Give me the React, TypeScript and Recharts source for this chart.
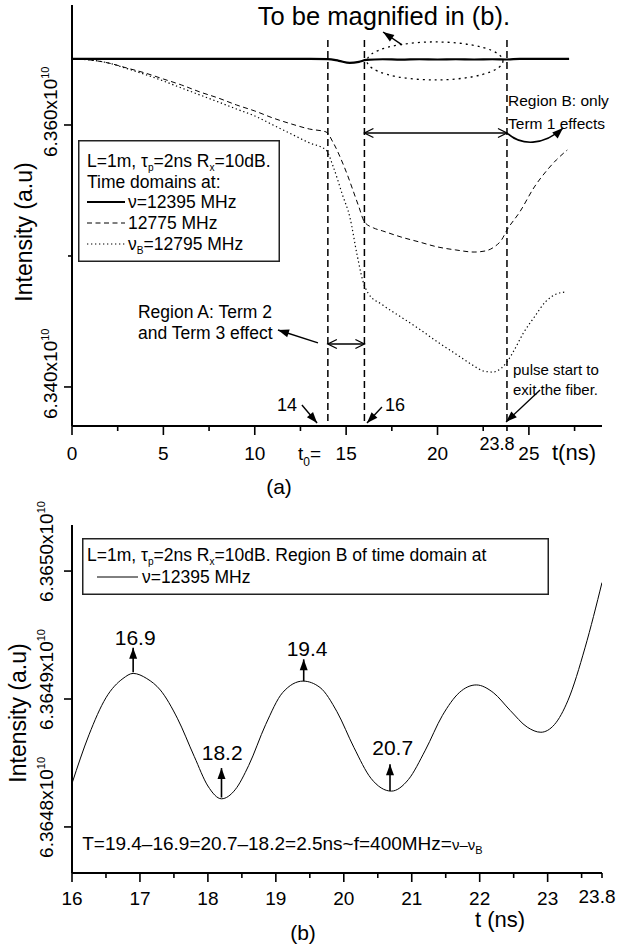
import React from 'react';
import { LineChart, Line, XAxis, YAxis, ReferenceLine, ReferenceDot, ReferenceArea, Legend, Label } from 'recharts';

const FONT = '"Liberation Sans", Arial, Helvetica, sans-serif';

// ---------------- Panel (a) data ----------------
const A_T_SOLID = [0, 2, 4, 6, 8, 10, 12, 13, 14, 14.6, 15.2, 15.7, 16.1, 17, 18, 19, 20, 21, 22, 23, 23.8, 24.5, 25.5, 27.2];
const A_V_SOLID = [6.36504, 6.36504, 6.36505, 6.36504, 6.36504, 6.36504, 6.36504, 6.36504, 6.36503, 6.3649, 6.36474, 6.36482, 6.36497, 6.36502, 6.36499, 6.36502, 6.365, 6.36502, 6.365, 6.36502, 6.365, 6.36505, 6.36504, 6.36504];

const A_T_DASH = [0, 1, 2, 3, 4, 5, 6, 7, 8, 9, 10, 11, 12, 13, 13.9, 14.3, 14.9, 15.7, 16, 16.5, 17, 18, 19, 20, 21, 22, 22.6, 23.1, 23.5, 23.8, 24.5, 25.3, 26, 26.5, 27.1];
const A_V_DASH = [6.36504, 6.36496, 6.36473, 6.36435, 6.36397, 6.36351, 6.36305, 6.36252, 6.36206, 6.36153, 6.36107, 6.36053, 6.36008, 6.35969, 6.35947, 6.35863, 6.35679, 6.35374, 6.3526, 6.35214, 6.35191, 6.35145, 6.35107, 6.35069, 6.35046, 6.3503, 6.35038, 6.35069, 6.35122, 6.35198, 6.35336, 6.35527, 6.35656, 6.35733, 6.35809];

const A_T_DOT = [0, 1, 2, 3, 4, 5, 6, 7, 8, 9, 10, 11, 12, 13, 13.9, 14.3, 14.8, 15.2, 15.6, 15.9, 16.2, 17, 18, 19, 20, 21, 22, 22.5, 23, 23.5, 23.8, 24.2, 24.7, 25.3, 25.9, 26.5, 27];
const A_V_DOT = [6.36504, 6.36496, 6.36473, 6.36431, 6.36386, 6.36336, 6.36282, 6.36229, 6.36176, 6.36122, 6.36069, 6.36, 6.35931, 6.35863, 6.35809, 6.35679, 6.35466, 6.35298, 6.35008, 6.34817, 6.34717, 6.34626, 6.34534, 6.34443, 6.34343, 6.34252, 6.3416, 6.34122, 6.34114, 6.34145, 6.34191, 6.34282, 6.34412, 6.34534, 6.34649, 6.3471, 6.34725];

const A_NAMES = ['ν=12395 MHz', '12775 MHz', 'ν_B=12795 MHz'];
const A_HEADER = ['L=1m, τ_p=2ns R_x=10dB.', 'Time domains at:'];
const A_X_DOMAIN = [0, 29];
const A_Y_DOMAIN = [6.33702, 6.36916];
const A_X_TICKS = [0, 2.5, 5, 7.5, 10, 12.5, 15, 17.5, 20, 22.5, 23.8, 25, 27.5];
const A_X_LABELED = [0, 5, 10, 15, 20, 25];
const A_Y_TICKS = [6.34, 6.35, 6.36];
const A_Y_LABELS = ['6.340x10', '', '6.360x10'];
const A_MARKS = [14, 16, 23.8];

// ---------------- Panel (b) data ----------------
const B_T = [16, 16.25, 16.5, 16.75, 16.9, 17.1, 17.3, 17.55, 17.8, 18, 18.2, 18.4, 18.6, 18.85, 19.1, 19.4, 19.65, 19.9, 20.15, 20.4, 20.7, 20.95, 21.2, 21.45, 21.7, 21.95, 22.2, 22.45, 22.7, 22.9, 23.1, 23.3, 23.55, 23.8];
const B_V = [6.364834, 6.364872, 6.364901, 6.364916, 6.36492, 6.364916, 6.364907, 6.364885, 6.364855, 6.364832, 6.364822, 6.364829, 6.364848, 6.36488, 6.364905, 6.364914, 6.364909, 6.36489, 6.364862, 6.364838, 6.364828, 6.364837, 6.36486, 6.364887, 6.364905, 6.364911, 6.364905, 6.364891, 6.364878, 6.364874, 6.36488, 6.364899, 6.36494, 6.364991];
const B_NAME = 'ν=12395 MHz';
const B_HEADER = 'L=1m, τ_p=2ns R_x=10dB. Region B of time domain at';
const B_X_DOMAIN = [16, 23.8];
const B_Y_DOMAIN = [6.364764, 6.365036];
const B_X_TICKS = [16, 16.5, 17, 17.5, 18, 18.5, 19, 19.5, 20, 20.5, 21, 21.5, 22, 22.5, 23, 23.5, 23.8];
const B_Y_TICKS = [6.3648, 6.3649, 6.365];
const B_Y_LABELS = ['6.3648x10', '6.3649x10', '6.3650x10'];
const B_EXTREMA = [
  { t: 16.9, label: '16.9' },
  { t: 18.2, label: '18.2' },
  { t: 19.4, label: '19.4' },
  { t: 20.7, label: '20.7' },
];

const toPts = (ts: number[], vs: number[]) => ts.map((t, i) => ({ t, v: vs[i] }));
const A_SOLID = toPts(A_T_SOLID, A_V_SOLID);
const A_DASH = toPts(A_T_DASH, A_V_DASH);
const A_DOT = toPts(A_T_DOT, A_V_DOT);
const B_DATA = toPts(B_T, B_V);

// ---------------- helpers ----------------
function rich(s: string, size: number) {
  const parts = s.split(/(_[A-Za-z0-9])/);
  const out: React.ReactNode[] = [];
  let sub = false;
  parts.forEach((part, i) => {
    if (part.length === 2 && part[0] === '_') {
      out.push(<tspan key={i} fontSize={size * 0.58} dy={size * 0.2}>{part[1]}</tspan>);
      sub = true;
    } else if (part) {
      out.push(<tspan key={i} dy={sub ? -size * 0.2 : 0}>{part}</tspan>);
      sub = false;
    }
  });
  return out;
}

type Head = 'filled' | 'open' | 'none';
function drawHead(x: number, y: number, ang: number, kind: Head, key: string) {
  if (kind === 'none') return null;
  const L = kind === 'filled' ? 11 : 9;
  const W = kind === 'filled' ? 4 : 4.5;
  const bx = x - L * Math.cos(ang);
  const by = y - L * Math.sin(ang);
  const px = -Math.sin(ang) * W;
  const py = Math.cos(ang) * W;
  if (kind === 'filled')
    return <polygon key={key} points={`${x},${y} ${bx + px},${by + py} ${bx - px},${by - py}`} fill="#000" />;
  return <polyline key={key} points={`${bx + px},${by + py} ${x},${y} ${bx - px},${by - py}`} fill="none" stroke="#000" strokeWidth={1.3} />;
}
const arrow = (start: Head, end: Head, sw = 1.4) => (p: any) => {
  const { x1, y1, x2, y2 } = p;
  const a = Math.atan2(y2 - y1, x2 - x1);
  return (
    <g>
      <line x1={x1} y1={y1} x2={x2} y2={y2} stroke="#000" strokeWidth={sw} />
      {drawHead(x2, y2, a, end, 'e')}
      {drawHead(x1, y1, a + Math.PI, start, 's')}
    </g>
  );
};
const curvedArrow = (p: any) => {
  const { x1, y1, x2, y2 } = p;
  const dx = x2 - x1;
  const c1x = x1 + dx * 0.25, c1y = y1 + 13, c2x = x1 + dx * 0.65, c2y = y1 + 13;
  const a = Math.atan2(y2 - c2y, x2 - c2x);
  return (
    <g>
      <path d={`M${x1},${y1} C${c1x},${c1y} ${c2x},${c2y} ${x2},${y2}`} fill="none" stroke="#000" strokeWidth={1.6} />
      {drawHead(x2, y2, a, 'filled', 'h')}
    </g>
  );
};

const seg = (key: string, t1: number, v1: number, t2: number, v2: number, shape: any) => (
  <ReferenceLine key={key} segment={[{ x: t1, y: v1 }, { x: t2, y: v2 }]} ifOverflow="visible" shape={shape} />
);
const note = (key: string, t: number, v: number, text: React.ReactNode, size: number, anchor: 'start' | 'middle' | 'end' = 'start') => (
  <ReferenceDot key={key} x={t} y={v} r={0} ifOverflow="visible"
    shape={(p: any) => (
      <text x={p.cx} y={p.cy} fontSize={size} textAnchor={anchor} fill="#000" fontFamily={FONT}>{text}</text>
    )} />
);

// ---------------- axis ticks ----------------
function ATickX(props: any) {
  const { x, y, payload } = props;
  const v = payload.value;
  const major = A_X_LABELED.includes(v);
  return (
    <g>
      <line x1={x} y1={y} x2={x} y2={y + (major ? 9 : 5)} stroke="#000" strokeWidth={1.6} />
      {major && <text x={x} y={y + 34} textAnchor="middle" fontSize={19} fill="#000">{v}</text>}
      {v === 15 && (
        <text x={x - 25} y={y + 34} textAnchor="end" fontSize={19} fill="#000">
          t<tspan fontSize={12} dy={6}>0</tspan><tspan dy={-6}>=</tspan>
        </text>
      )}
      {v === 23.8 && <text x={x - 10} y={y + 24} textAnchor="middle" fontSize={18} fill="#000">23.8</text>}
    </g>
  );
}
function ATickY(props: any) {
  const { x, y, payload } = props;
  const idx = A_Y_TICKS.indexOf(payload.value);
  const lab = A_Y_LABELS[idx];
  return (
    <g>
      <line x1={x - (lab ? 8 : 4)} y1={y} x2={x} y2={y} stroke="#000" strokeWidth={1.6} />
      {lab && (
        <text transform={`translate(${x - 15},${y + 32}) rotate(-90)`} fontSize={19} fill="#000">
          {lab}<tspan fontSize={11} dy={-8}>10</tspan>
        </text>
      )}
    </g>
  );
}
function BTickX(props: any) {
  const { x, y, payload } = props;
  const v = payload.value;
  const major = Number.isInteger(v);
  return (
    <g>
      <line x1={x} y1={y} x2={x} y2={y + (major ? 9 : 5)} stroke="#000" strokeWidth={1.6} />
      {major && <text x={x} y={y + 32} textAnchor="middle" fontSize={19} fill="#000">{v}</text>}
      {v === 23.8 && <text x={x - 5} y={y + 30} textAnchor="middle" fontSize={19} fill="#000">23.8</text>}
    </g>
  );
}
function BTickY(props: any) {
  const { x, y, payload } = props;
  const idx = B_Y_TICKS.indexOf(payload.value);
  const lab = B_Y_LABELS[idx];
  return (
    <g>
      <line x1={x - 8} y1={y} x2={x} y2={y} stroke="#000" strokeWidth={1.6} />
      {lab && (
        <text transform={`translate(${x - 19},${y + 31}) rotate(-90)`} fontSize={19} fill="#000">
          {lab}<tspan fontSize={11} dy={-8}>10</tspan>
        </text>
      )}
    </g>
  );
}

// ---------------- legends ----------------
function LegendA(props: any) {
  const items = [...(props.payload || [])].sort(
    (a: any, b: any) => A_NAMES.indexOf(String(a.value)) - A_NAMES.indexOf(String(b.value))
  );
  return (
    <svg width={202} height={122} style={{ display: 'block', fontFamily: FONT }}>
      <rect x={0.75} y={0.75} width={200.5} height={120.5} fill="#fff" stroke="#222" strokeWidth={1.5} />
      <text x={9} y={27} fontSize={17.5} fill="#000">{rich(A_HEADER[0], 17.5)}</text>
      <text x={9} y={48} fontSize={17.5} fill="#000">{A_HEADER[1]}</text>
      {items.map((it: any, i: number) => {
        const pp = it.payload || {};
        return (
          <g key={i}>
            <line x1={9} x2={47} y1={62 + i * 21} y2={62 + i * 21} stroke="#000"
              strokeWidth={pp.strokeWidth || 1} strokeDasharray={pp.strokeDasharray} />
            <text x={50} y={68 + i * 21} fontSize={17.5} fill="#000">{rich(String(it.value), 17.5)}</text>
          </g>
        );
      })}
    </svg>
  );
}
function LegendB(props: any) {
  const items = props.payload || [];
  return (
    <svg width={467} height={57} style={{ display: 'block', fontFamily: FONT }}>
      <rect x={0.75} y={0.75} width={465.5} height={55.5} fill="#fff" stroke="#222" strokeWidth={1.5} />
      <text x={5} y={23} fontSize={17.5} fill="#000">{rich(B_HEADER, 17.5)}</text>
      {items.map((it: any, i: number) => (
        <g key={i}>
          <line x1={15} x2={56} y1={39} y2={39} stroke="#000" strokeWidth={1} />
          <text x={60} y={45} fontSize={17.5} fill="#000">{rich(String(it.value), 17.5)}</text>
        </g>
      ))}
    </svg>
  );
}

// ---------------- axis titles ----------------
const YTitleA = (p: any) => {
  const vb = p.viewBox || {};
  return <text transform={`translate(${vb.x + 32},${vb.y + 227}) rotate(-90)`} textAnchor="middle" fontSize={23} fill="#000" fontFamily={FONT}>Intensity (a.u)</text>;
};
const XTitleA = (p: any) => {
  const vb = p.viewBox || {};
  return (
    <g fontFamily={FONT} fill="#000">
      <text x={vb.x + vb.width - 50} y={vb.y + 34} fontSize={22}>t(ns)</text>
      <text x={vb.x + 207} y={vb.y + 68} fontSize={21} textAnchor="middle">(a)</text>
    </g>
  );
};
const YTitleB = (p: any) => {
  const vb = p.viewBox || {};
  return <text transform={`translate(${vb.x + 26},${vb.y + 188}) rotate(-90)`} textAnchor="middle" fontSize={23} fill="#000" fontFamily={FONT}>Intensity (a.u)</text>;
};
const XTitleB = (p: any) => {
  const vb = p.viewBox || {};
  return (
    <g fontFamily={FONT} fill="#000">
      <text x={vb.x + 428} y={vb.y + 54} fontSize={22} textAnchor="middle">t (ns)</text>
      <text x={vb.x + 231} y={vb.y + 67} fontSize={21} textAnchor="middle">(b)</text>
    </g>
  );
};

const ellipseShape = (p: any) => (
  <ellipse cx={p.x + p.width / 2} cy={p.y + p.height / 2} rx={p.width / 2} ry={p.height / 2}
    fill="none" stroke="#000" strokeWidth={1.3} strokeDasharray="2 4" />
);

const AX = { stroke: '#000', strokeWidth: 2 };

export default function App() {
  return (
    <div style={{ position: 'absolute', left: 0, top: 0, width: 618, height: 949, background: '#fff', fontFamily: FONT }}>
      <div style={{ position: 'absolute', left: 0, top: 0 }}>
        <LineChart width={618} height={500} margin={{ top: 5, right: 16, bottom: 24, left: 0 }} style={{ fontFamily: FONT }}>
          <XAxis type="number" dataKey="t" domain={A_X_DOMAIN} ticks={A_X_TICKS} interval={0} allowDataOverflow
            height={50} tickSize={0} tickMargin={0} tickLine={false} axisLine={AX} tick={<ATickX />}>
            <Label content={XTitleA} />
          </XAxis>
          <YAxis type="number" dataKey="v" domain={A_Y_DOMAIN} ticks={A_Y_TICKS} interval={0} allowDataOverflow
            width={72} tickSize={0} tickMargin={0} tickLine={false} axisLine={AX} tick={<ATickY />}>
            <Label content={YTitleA} />
          </YAxis>
          <Legend layout="horizontal" verticalAlign="middle" align="center" content={<LegendA />}
            wrapperStyle={{ position: 'absolute', left: 78, top: 140, width: 202, height: 122, margin: 0, padding: 0 }} />

          {A_MARKS.map((m) => (
            <ReferenceLine key={'m' + m} segment={[{ x: m, y: 6.36649 }, { x: m, y: A_Y_DOMAIN[0] }]} ifOverflow="visible"
              stroke="#000" strokeWidth={1.5} strokeDasharray="7 4" />
          ))}
          <ReferenceArea x1={16.14} x2={23.58} y1={6.36344} y2={6.36634} ifOverflow="visible" shape={ellipseShape} />

          <Line data={A_SOLID} dataKey="v" name={A_NAMES[0]} type="monotone" stroke="#000" strokeWidth={2.2} dot={false} activeDot={false} isAnimationActive={false} />
          <Line data={A_DASH} dataKey="v" name={A_NAMES[1]} type="monotone" stroke="#000" strokeWidth={1} strokeDasharray="5 3.5" dot={false} activeDot={false} isAnimationActive={false} />
          <Line data={A_DOT} dataKey="v" name={A_NAMES[2]} type="monotone" stroke="#000" strokeWidth={1.2} strokeDasharray="1.3 2.7" dot={false} activeDot={false} isAnimationActive={false} />

          {note('mag', 17.07, 6.36763, 'To be magnified in (b).', 25.5, 'middle')}
          {seg('magA', 18.06, 6.36611, 17.02, 6.3671, arrow('none', 'filled'))}
          {seg('regB', 16, 6.35939, 23.8, 6.35939, arrow('open', 'open'))}
          {note('regB1', 23.86, 6.36145, 'Region B: only', 15.5)}
          {note('regB2', 23.86, 6.35969, 'Term 1 effects', 15.5)}
          {seg('regBc', 23.8, 6.35939, 26.87, 6.35977, curvedArrow)}
          {note('regA1', 3.61, 6.34527, 'Region A: Term 2', 17.5)}
          {note('regA2', 3.61, 6.34366, 'and Term 3 effect', 17.5)}
          {seg('regAa', 13.46, 6.34336, 11.27, 6.34435, arrow('none', 'filled'))}
          {seg('regAd', 14, 6.34328, 16, 6.34328, arrow('open', 'open'))}
          {note('n14', 11.76, 6.33817, '14', 18, 'middle')}
          {seg('a14', 12.58, 6.33862, 13.41, 6.33725, arrow('none', 'filled'))}
          {note('n16', 17.67, 6.33817, '16', 18, 'middle')}
          {seg('a16', 16.96, 6.33847, 16.14, 6.33725, arrow('none', 'filled'))}
          {note('p1', 24.13, 6.34092, 'pulse start to', 15)}
          {note('p2', 24.13, 6.33939, 'exit the fiber.', 15)}
          {seg('pa', 25.61, 6.33977, 23.75, 6.33733, arrow('none', 'filled'))}
        </LineChart>
      </div>

      <div style={{ position: 'absolute', left: 0, top: 500 }}>
        <LineChart width={618} height={449} margin={{ top: 25, right: 16, bottom: 26, left: 0 }} style={{ fontFamily: FONT }}>
          <XAxis type="number" dataKey="t" domain={B_X_DOMAIN} ticks={B_X_TICKS} interval={0} allowDataOverflow
            height={50} tickSize={0} tickMargin={0} tickLine={false} axisLine={AX} tick={<BTickX />}>
            <Label content={XTitleB} />
          </XAxis>
          <YAxis type="number" dataKey="v" domain={B_Y_DOMAIN} ticks={B_Y_TICKS} interval={0} allowDataOverflow
            width={72} tickSize={0} tickMargin={0} tickLine={false} axisLine={AX} tick={<BTickY />}>
            <Label content={YTitleB} />
          </YAxis>
          <Legend layout="horizontal" verticalAlign="middle" align="center" content={<LegendB />}
            wrapperStyle={{ position: 'absolute', left: 82, top: 38, width: 467, height: 57, margin: 0, padding: 0 }} />

          <Line data={B_DATA} dataKey="v" name={B_NAME} type="monotone" stroke="#000" strokeWidth={1} dot={false} activeDot={false} isAnimationActive={false} />

          {seg('e0', 16.9, 6.364921, 16.9, 6.36494, arrow('none', 'filled', 1.6))}
          {note('t0', 16.93, 6.364942, B_EXTREMA[0].label, 21, 'middle')}
          {seg('e1', 18.2, 6.364823, 18.2, 6.364846, arrow('none', 'filled', 1.6))}
          {note('t1', 18.21, 6.364852, B_EXTREMA[1].label, 21, 'middle')}
          {seg('e2', 19.41, 6.364914, 19.41, 6.364931, arrow('none', 'filled', 1.6))}
          {note('t2', 19.46, 6.364934, B_EXTREMA[2].label, 21, 'middle')}
          {seg('e3', 20.68, 6.364828, 20.68, 6.364849, arrow('none', 'filled', 1.6))}
          {note('t3', 20.72, 6.364856, B_EXTREMA[3].label, 21, 'middle')}
          {note('formula', 16.15, 6.364782, <>
            T=19.4–16.9=20.7–18.2=2.5ns~f=400MHz=<tspan fontSize={15}>ν–ν</tspan><tspan fontSize={11} dy={4}>B</tspan>
          </>, 19)}
        </LineChart>
      </div>
    </div>
  );
}
